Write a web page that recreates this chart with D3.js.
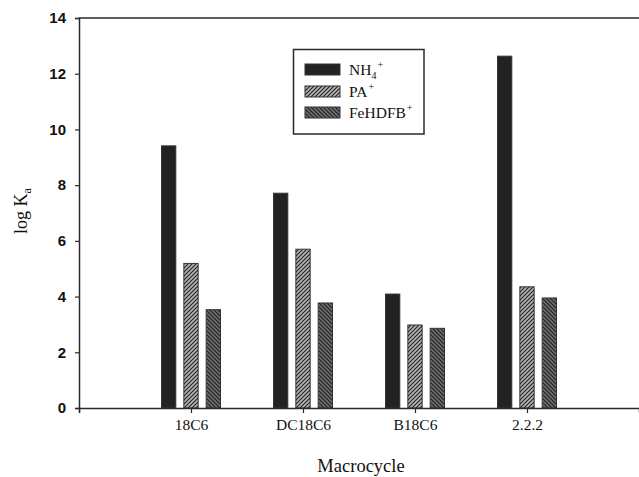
<!DOCTYPE html>
<html>
<head>
<meta charset="utf-8">
<script src="https://cdn.jsdelivr.net/npm/d3@7"></script>
<style>
  html, body { margin: 0; padding: 0; background: #fff; }
  svg { display: block; }
</style>
</head>
<body>
<svg id="chart" width="639" height="477"></svg>
<script>
// Association constants (log Ka) of each cation with each macrocycle
const macrocycles = ["18C6", "DC18C6", "B18C6", "2.2.2"];
const cations = ["NH4", "PA", "FeHDFB"];
const nh4Values = [9.41, 7.71, 4.09, 12.63];
const paValues = [5.19, 5.70, 2.98, 4.35];
const feValues = [3.53, 3.77, 2.86, 3.95];
const yTicks = [0, 2, 4, 6, 8, 10, 12, 14];

const seriesValues = { NH4: nh4Values, PA: paValues, FeHDFB: feValues };

const svg = d3.select("#chart");
const plot = { left: 79, right: 639, top: 18, bottom: 408 };
const ink = "#2a2a2a";

// Category slots sit at 1..4 on a 0..5 axis
const x = d3.scaleLinear().domain([0, macrocycles.length + 1]).range([plot.left, plot.right]);
const inner = d3.scaleBand().domain(cations).range([-29.5, 29.5]).paddingInner(0.36);
const y = d3.scaleLinear().domain([0, 14]).range([plot.bottom, plot.top]);

// Hatch patterns
const defs = svg.append("defs");
function hatch(id, bg, dir) {
  const p = defs.append("pattern")
    .attr("id", id).attr("patternUnits", "userSpaceOnUse")
    .attr("width", 4).attr("height", 4);
  p.append("rect").attr("width", 4).attr("height", 4).attr("fill", bg);
  const d = dir > 0 ? "M-1,1 l2,-2 M0,4 l4,-4 M3,5 l2,-2" : "M-1,3 l2,2 M0,0 l4,4 M3,-1 l2,2";
  p.append("path").attr("d", d).attr("stroke", "#222").attr("stroke-width", 1.2);
}
hatch("hatchPA", "#b8b8b8", 1);
hatch("hatchFe", "#6e6e6e", -1);

const fills = { NH4: "#222222", PA: "url(#hatchPA)", FeHDFB: "url(#hatchFe)" };

// Bars
cations.forEach(c => {
  svg.append("g").selectAll("rect")
    .data(seriesValues[c])
    .join("rect")
    .attr("x", (v, i) => x(i + 1) + inner(c))
    .attr("width", inner.bandwidth())
    .attr("y", v => y(v))
    .attr("height", v => y(0) - y(v))
    .attr("fill", fills[c])
    .attr("stroke", "#333")
    .attr("stroke-width", 1);
});

// Y axis
const yAxis = svg.append("g")
  .attr("transform", `translate(${plot.left},0)`)
  .call(d3.axisLeft(y).tickValues(yTicks).tickSize(4).tickPadding(9).tickFormat(d3.format("d")));
yAxis.select(".domain").attr("stroke", ink).attr("stroke-width", 1.5);
yAxis.selectAll(".tick line").attr("stroke", ink).attr("stroke-width", 1.2);
yAxis.selectAll(".tick text")
  .attr("fill", "#111")
  .style("font-family", "'Liberation Sans', Arial, sans-serif")
  .style("font-weight", "bold")
  .style("font-size", "15px");

// X axis
const xAxis = svg.append("g")
  .attr("transform", `translate(0,${plot.bottom})`)
  .call(d3.axisBottom(x).tickValues([0, 1, 2, 3, 4]).tickSize(5).tickPadding(6)
    .tickFormat(d => d === 0 ? "" : macrocycles[d - 1]));
xAxis.select(".domain").attr("stroke", ink).attr("stroke-width", 1.5);
xAxis.selectAll(".tick line").attr("stroke", ink).attr("stroke-width", 1.2);
xAxis.selectAll(".tick text")
  .attr("fill", "#111")
  .style("font-family", "'Liberation Serif', 'Times New Roman', serif")
  .style("font-size", "15.5px");

// Top frame line
svg.append("line")
  .attr("x1", plot.left).attr("x2", plot.right).attr("y1", plot.top).attr("y2", plot.top)
  .attr("stroke", ink).attr("stroke-width", 1.5);

// Axis titles
svg.append("text")
  .attr("x", 361).attr("y", 472)
  .attr("text-anchor", "middle")
  .attr("fill", "#111")
  .style("font-family", "'Liberation Serif', 'Times New Roman', serif")
  .style("font-size", "18.5px")
  .text("Macrocycle");

const yTitle = svg.append("text")
  .attr("transform", "translate(27,211) rotate(-90)")
  .attr("text-anchor", "middle")
  .attr("fill", "#111")
  .style("font-family", "'Liberation Serif', 'Times New Roman', serif")
  .style("font-size", "18px");
yTitle.append("tspan").text("log K");
yTitle.append("tspan").attr("dy", 4).style("font-size", "12px").text("a");

// Legend
const legend = svg.append("g");
legend.append("rect")
  .attr("x", 293.5).attr("y", 49.5).attr("width", 130.5).attr("height", 84.5)
  .attr("fill", "#fff").attr("stroke", ink).attr("stroke-width", 1.5);
const rowY = [69.5, 91.5, 112.5];
cations.forEach((c, i) => {
  legend.append("rect")
    .attr("x", 305).attr("y", rowY[i] - 5.5).attr("width", 35).attr("height", 11)
    .attr("fill", fills[c]).attr("stroke", "#333").attr("stroke-width", 1);
  const t = legend.append("text")
    .attr("x", 349).attr("y", rowY[i] + 5.5)
    .attr("fill", "#111")
    .style("font-family", "'Liberation Serif', 'Times New Roman', serif")
    .style("font-size", "15.5px");
  if (c === "NH4") {
    t.append("tspan").text("NH");
    t.append("tspan").attr("dy", 4).style("font-size", "10px").text("4");
    t.append("tspan").attr("dx", 1).attr("dy", -11).style("font-size", "10px").text("+");
  } else {
    t.append("tspan").text(c);
    t.append("tspan").attr("dx", 1).attr("dy", -7).style("font-size", "10px").text("+");
  }
});
</script>
</body>
</html>
